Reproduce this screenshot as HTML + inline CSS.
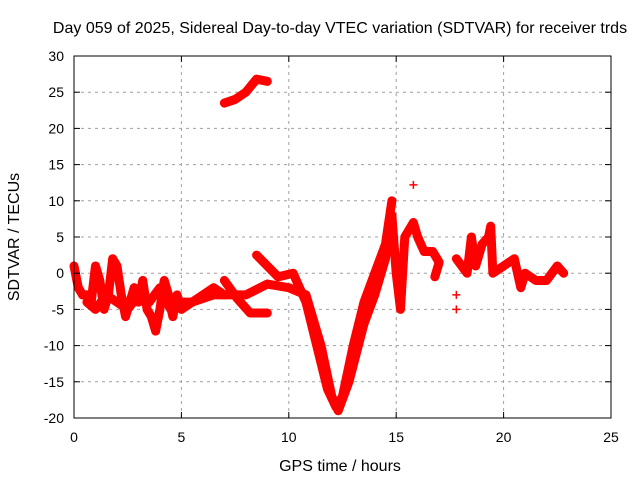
<!DOCTYPE html>
<html><head><meta charset="utf-8"><style>
body{margin:0;background:#fff}
svg{display:block;font-family:"Liberation Sans",sans-serif}
</style></head><body>
<svg id="c" width="640" height="480">
<rect width="640" height="480" fill="#fff"/>
<text x="340" y="33" font-size="16" text-anchor="middle">Day 059 of 2025, Sidereal Day-to-day VTEC variation (SDTVAR) for receiver trds</text>
<text x="340" y="471" font-size="16" text-anchor="middle">GPS time / hours</text>
<text x="19" y="237" font-size="16" text-anchor="middle" transform="rotate(-90 19 237)">SDTVAR / TECUs</text>
<g id="grid"></g><g id="marks"></g>
<rect x="74" y="56" width="537" height="362" fill="none" stroke="#000" stroke-width="1"/>
<g id="ticks"></g>
</svg>
<script>
const xTicks=[0,5,10,15,20,25];
const yTicks=[-20,-15,-10,-5,0,5,10,15,20,25,30];
const trackMorningT=[0,0.2,0.4,0.6,0.8,1.0,1.2,1.4,1.6,1.8,2.0,2.2,2.4,2.6,2.8,3.0,3.2,3.4,3.6,3.8,4.0,4.2,4.4,4.6,4.8,5.0,5.5,6.0,6.5,7.0];
const trackMorningV=[1,-2,-3,-3,-4,1,-1,-5,-3,2,1,-3,-6,-4,-2,-4,-1,-5,-6,-8,-5,-1,-3,-6,-3,-5,-4,-3,-2,-3];
const trackMorning2T=[0.6,1.0,1.5,2.0,2.5,3.0,3.5,4.0,4.5,5.0,5.5];
const trackMorning2V=[-4,-5,-3,-4,-5,-3,-4,-2,-5,-4,-4];
const trackLowerT=[5.5,6.5,7,8,9,10,10.8,11.5,12,12.3,12.8,13.5,14,14.5,14.8];
const trackLowerV=[-4,-3,-3,-3,-1.5,-2,-3,-10,-17,-19,-15,-7,-3,2,8];
const trackUpperT=[8.5,9.5,10.2,10.8,11.3,11.8,12.2,12.5,13,13.5,14,14.5,14.8];
const trackUpperV=[2.5,-0.5,0,-4,-10,-16,-18.5,-17,-10,-4,0,4,10];
const trackDropT=[7,7.6,8.2,9];
const trackDropV=[-1,-3.5,-5.5,-5.5];
const trackArcT=[7,7.5,8,8.5,9];
const trackArcV=[23.5,24,25,26.8,26.5];
const trackPostT=[14.8,15,15.2,15.4,15.8,16,16.3,16.7,17,16.8];
const trackPostV=[8,0,-5,5,7,5,3,3,1.5,-0.5];
const trackLateT=[17.8,18.3,18.5,18.7,19,19.3,19.4,19.5,20,20.5,20.8,21,21.5,22,22.5,22.8];
const trackLateV=[2,0,5,1,4,5,6.5,0,1,2,-2,0,-1,-1,1,0];
const scatterT=[15.8,17.8,17.8];
const scatterV=[12.2,-3,-5];
const X0=74,X1=611,Y0=418,Y1=56;
const sx=t=>X0+(t-0)/(25-0)*(X1-X0);
const sy=v=>Y0-(v+20)/(30+20)*(Y0-Y1);
const NS="http://www.w3.org/2000/svg";
const grid=document.getElementById('grid'),ticks=document.getElementById('ticks'),marks=document.getElementById('marks');
function mk(tag,attrs,parent){const e=document.createElementNS(NS,tag);for(const k in attrs)e.setAttribute(k,attrs[k]);parent.appendChild(e);return e;}
xTicks.forEach(t=>{const x=sx(t);
 if(t>0&&t<25){const g=mk('line',{x1:x,x2:x,y1:Y0,y2:Y1,stroke:'#a0a0a0','stroke-dasharray':'3,4'},grid);}
 mk('line',{x1:x,x2:x,y1:Y0,y2:Y0-6,stroke:'#000'},ticks);mk('line',{x1:x,x2:x,y1:Y1,y2:Y1+6,stroke:'#000'},ticks);
 const l=mk('text',{x:x,y:Y0+24,'font-size':14,'text-anchor':'middle'},ticks);l.textContent=t;
 
 });
yTicks.forEach(v=>{const y=sy(v);
 if(v>-20&&v<30){const g=mk('line',{x1:X0,x2:X1,y1:y,y2:y,stroke:'#a0a0a0','stroke-dasharray':'3,4'},grid);}
 mk('line',{x1:X0,x2:X0+6,y1:y,y2:y,stroke:'#000'},ticks);mk('line',{x1:X1,x2:X1-6,y1:y,y2:y,stroke:'#000'},ticks);
 const l=mk('text',{x:X0-10,y:y+5,'font-size':14,'text-anchor':'end'},ticks);l.textContent=v;
 
 });
function cross(t,v){const x=sx(t),y=sy(v);
 const p=mk('path',{d:`M${x-4},${y}h8M${x},${y-4}v8`,stroke:'#f00','stroke-width':1.5},marks);
 
 }
function track(T,V,name){
 const pl=mk('polyline',{points:T.map((t,i)=>sx(t)+','+sy(V[i])).join(' '),fill:'none',stroke:'#f00','stroke-width':9,'stroke-linejoin':'round','stroke-linecap':'round'},marks);
 
 
 T.forEach((t,i)=>cross(t,V[i]));}
track(trackMorningT,trackMorningV,'morning-series');
track(trackMorning2T,trackMorning2V,'morning-band-series');
track(trackLowerT,trackLowerV,'lower-dip-series');
track(trackUpperT,trackUpperV,'upper-dip-series');
track(trackDropT,trackDropV,'drop-series');
track(trackArcT,trackArcV,'high-arc-series');
track(trackPostT,trackPostV,'post-peak-series');
track(trackLateT,trackLateV,'late-series');
scatterT.forEach((t,i)=>cross(t,scatterV[i]));
</script>
</body></html>
